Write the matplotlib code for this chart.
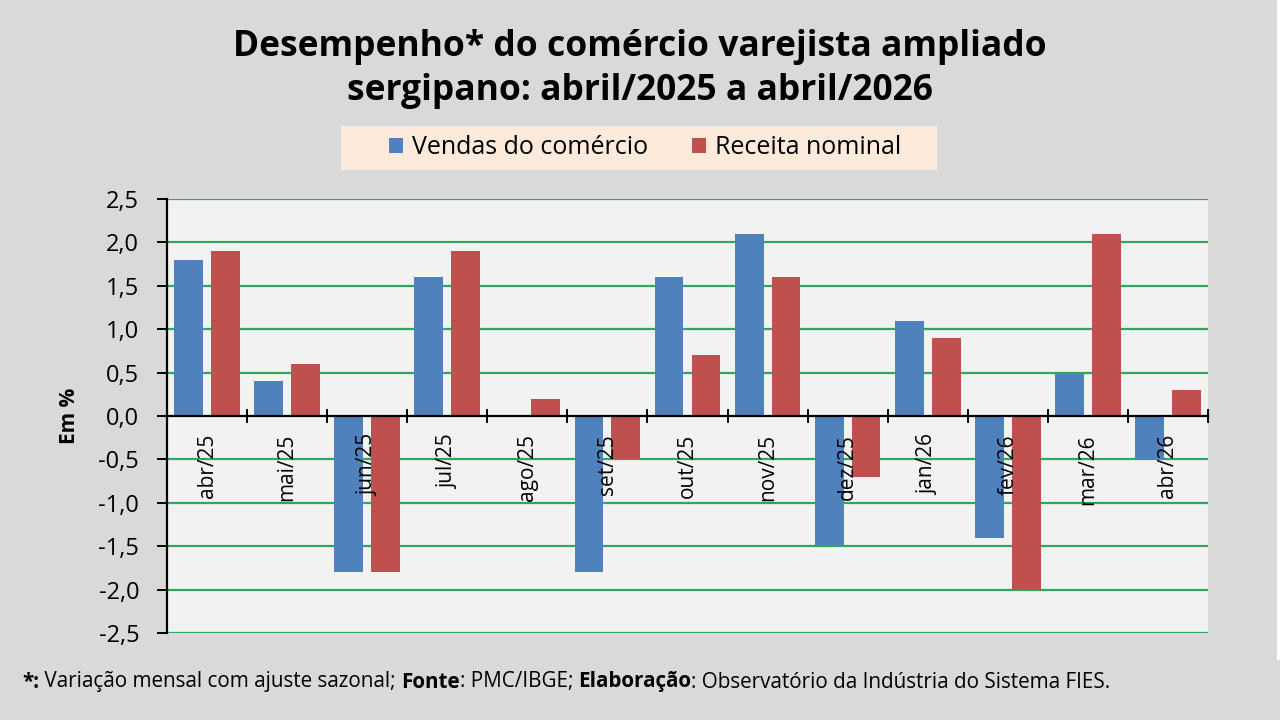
import numpy as np
import matplotlib
matplotlib.use("Agg")
import matplotlib.pyplot as plt
from matplotlib.patches import Rectangle

plt.rcParams['font.family'] = ['Open Sans', 'DejaVu Sans']

# data
months = ['abr/25', 'mai/25', 'jun/25', 'jul/25', 'ago/25', 'set/25', 'out/25',
          'nov/25', 'dez/25', 'jan/26', 'fev/26', 'mar/26', 'abr/26']
vendas = [1.8, 0.4, -1.8, 1.6, 0.0, -1.8, 1.6, 2.1, -1.5, 1.1, -1.4, 0.5, -0.5]
receita = [1.9, 0.6, -1.8, 1.9, 0.2, -0.5, 0.7, 1.6, -0.7, 0.9, -2.0, 2.1, 0.3]
y_ticks = [-2.5, -2.0, -1.5, -1.0, -0.5, 0.0, 0.5, 1.0, 1.5, 2.0, 2.5]

blue = '#4f81bd'
red = '#c0504d'
grid_green = '#2fa85c'

W, H = 1280, 720
fig = plt.figure(figsize=(12.8, 7.2), dpi=100, facecolor='#d9d9d9')

# thin white strip at the right edge of the chart picture
fig.patches.append(Rectangle((1277 / W, 1 - 660 / H), 3 / W, 660 / H,
                             transform=fig.transFigure, facecolor='white',
                             edgecolor='none', zorder=0))

ax = fig.add_axes([167 / W, 1 - 633 / H, (1208 - 167) / W, (633 - 199) / H])
ax.set_facecolor('#f2f2f2')
ax.set_axisbelow(False)   # month labels sit over the bars

x = np.arange(len(months))
bw = 0.36
off = 0.23
ax.bar(x - off, vendas, bw, color=blue, label='Vendas do comércio', zorder=2)
ax.bar(x + off, receita, bw, color=red, label='Receita nominal', zorder=2)

ax.set_xlim(-0.5, len(months) - 0.5)
ax.set_ylim(-2.5, 2.5)
ax.set_yticks(y_ticks)
ax.set_yticklabels([f"{v:.1f}".replace('.', ',') for v in y_ticks], fontsize=17)
for v in y_ticks:
    if v != 0:
        ax.axhline(v, color=grid_green, lw=1.6, zorder=1)

# axis lines
for s in ['top', 'right']:
    ax.spines[s].set_visible(False)
ax.spines['left'].set_linewidth(1.6)
ax.spines['bottom'].set_position(('data', 0))
ax.spines['bottom'].set_linewidth(1.6)
ax.tick_params(axis='y', direction='out', length=7, width=1.4, pad=13)

ax.set_xticks(x)
ax.set_xticklabels(months, rotation=90, fontsize=15)
ax.set_xticks(np.arange(-0.5, len(months)), minor=True)
ax.tick_params(axis='x', which='major', length=0, pad=13)
ax.tick_params(axis='x', which='minor', direction='inout', length=10, width=1.4)

ax.set_ylabel('Em %', fontsize=15, fontweight='bold')
ax.yaxis.set_label_coords(-0.084, 0.5)

# title
fig.text(0.5, 1 - 47 / H, 'Desempenho* do comércio varejista ampliado',
         ha='center', va='center', fontsize=25.5, fontweight='bold')
fig.text(0.5, 1 - 91 / H, 'sergipano: abril/2025 a abril/2026',
         ha='center', va='center', fontsize=25.5, fontweight='bold')

# legend on a peach box
fig.patches.append(Rectangle((341 / W, 1 - 170 / H), (937 - 341) / W, 44 / H,
                             transform=fig.transFigure, facecolor='#fdeada',
                             edgecolor='none', zorder=1))
fig.legend(loc='center', bbox_to_anchor=(645 / W, 1 - 148 / H), ncol=2,
           frameon=False, fontsize=18, handlelength=0.56, handleheight=0.56,
           handletextpad=0.36, columnspacing=1.76)

# footer with bold pieces
parts = [('*:', 'bold'), (' Variação mensal com ajuste sazonal; ', 'normal'),
         ('Fonte', 'bold'), (': PMC/IBGE; ', 'normal'),
         ('Elaboração', 'bold'), (': Observatório da Indústria do Sistema FIES.', 'normal')]
renderer = fig.canvas.get_renderer()
xpos = 22
for txt, wt in parts:
    t = fig.text(xpos / W, 1 - 682 / H, txt, ha='left', va='center',
                 fontsize=14.9, fontweight=wt)
    xpos += t.get_window_extent(renderer).width

fig.savefig('out.png', dpi=100, facecolor=fig.get_facecolor())
